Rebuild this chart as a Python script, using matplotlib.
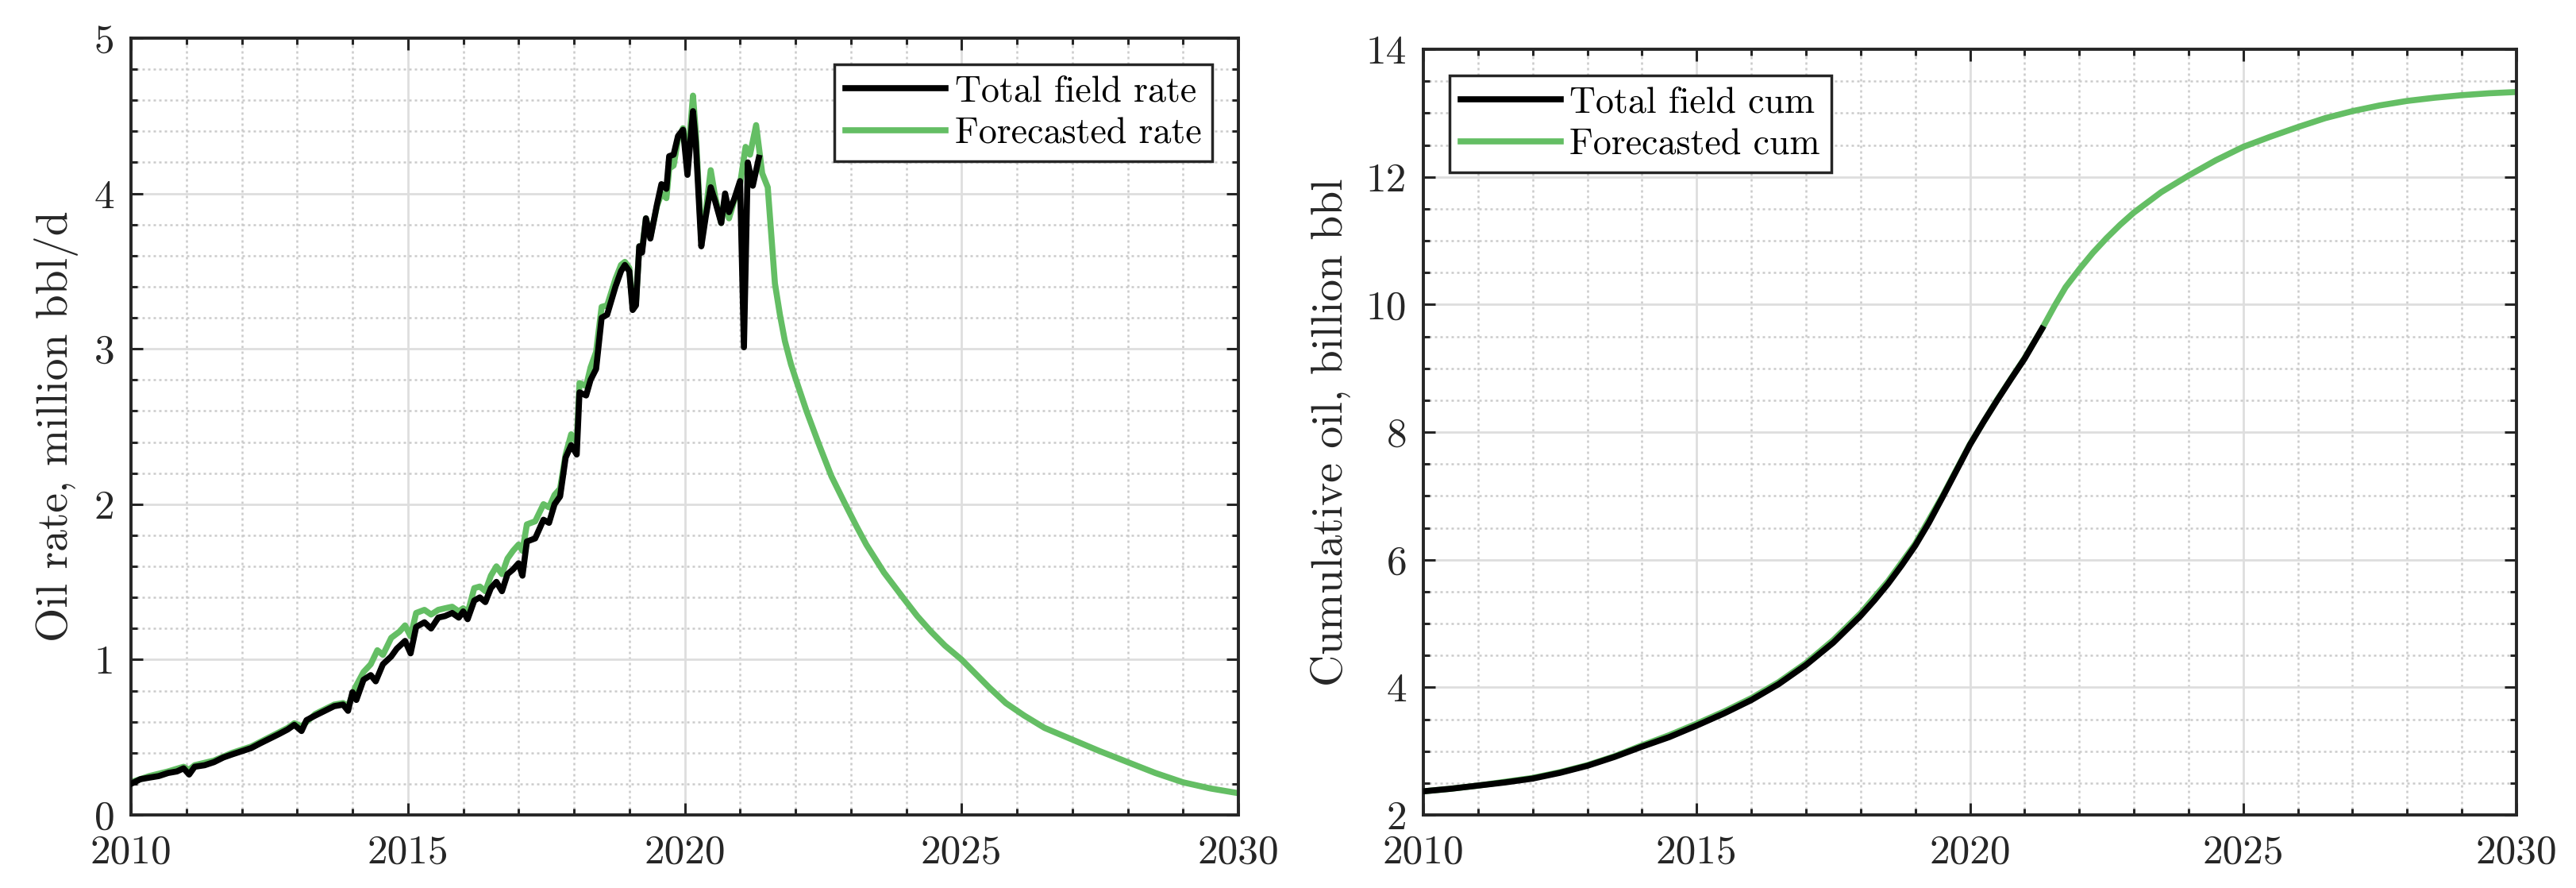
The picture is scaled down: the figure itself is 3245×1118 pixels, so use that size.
import matplotlib
matplotlib.use('Agg')
import matplotlib.pyplot as plt
from matplotlib.ticker import MultipleLocator
from matplotlib.lines import Line2D

plt.rcParams.update({
    'font.family': 'serif',
    'font.serif': ['cmr10'],
    'mathtext.fontset': 'cm',
    'axes.formatter.use_mathtext': True,
    'axes.unicode_minus': False,
})

# ---------------- data ----------------
rate_hist_year = [2010.00, 2010.17, 2010.33, 2010.50, 2010.67, 2010.83, 2010.95, 2011.05, 2011.15, 2011.33,
                  2011.50, 2011.67, 2011.83, 2012.00, 2012.17, 2012.33, 2012.50, 2012.67, 2012.83, 2012.95,
                  2013.08, 2013.17, 2013.33, 2013.50, 2013.67, 2013.83, 2013.92, 2014.00, 2014.07, 2014.20,
                  2014.33, 2014.42, 2014.55, 2014.70, 2014.80, 2014.95, 2015.05, 2015.15, 2015.30, 2015.42,
                  2015.55, 2015.67, 2015.80, 2015.92, 2016.00, 2016.08, 2016.20, 2016.30, 2016.40, 2016.50,
                  2016.60, 2016.70, 2016.80, 2016.90, 2017.00, 2017.07, 2017.15, 2017.30, 2017.45, 2017.55,
                  2017.65, 2017.75, 2017.85, 2017.95, 2018.05, 2018.10, 2018.22, 2018.30, 2018.40, 2018.50,
                  2018.60, 2018.75, 2018.85, 2018.92, 2019.00, 2019.06, 2019.12, 2019.18, 2019.23, 2019.30,
                  2019.38, 2019.50, 2019.58, 2019.67, 2019.72, 2019.80, 2019.88, 2019.97, 2020.05, 2020.15,
                  2020.20, 2020.30, 2020.38, 2020.47, 2020.55, 2020.66, 2020.73, 2020.80, 2020.90, 2021.00,
                  2021.07, 2021.14, 2021.23, 2021.34]
rate_hist = [0.20, 0.23, 0.24, 0.25, 0.27, 0.28, 0.30, 0.26, 0.31, 0.32,
             0.34, 0.37, 0.39, 0.41, 0.43, 0.46, 0.49, 0.52, 0.55, 0.58,
             0.54, 0.61, 0.64, 0.67, 0.70, 0.71, 0.67, 0.79, 0.74, 0.87,
             0.90, 0.86, 0.97, 1.02, 1.07, 1.12, 1.04, 1.21, 1.24, 1.20,
             1.27, 1.28, 1.30, 1.27, 1.31, 1.26, 1.38, 1.40, 1.37, 1.46,
             1.50, 1.44, 1.55, 1.58, 1.62, 1.54, 1.76, 1.78, 1.90, 1.88,
             2.00, 2.05, 2.30, 2.38, 2.32, 2.72, 2.70, 2.80, 2.87, 3.20,
             3.22, 3.40, 3.50, 3.54, 3.50, 3.25, 3.28, 3.66, 3.62, 3.84,
             3.71, 3.93, 4.06, 4.03, 4.24, 4.25, 4.37, 4.41, 4.12, 4.53,
             4.33, 3.66, 3.85, 4.04, 3.95, 3.81, 4.00, 3.88, 3.97, 4.08,
             3.01, 4.20, 4.05, 4.23]

rate_fc_year = [2010.00, 2010.33, 2010.67, 2010.95, 2011.05, 2011.15, 2011.50, 2011.83, 2012.17, 2012.50,
                2012.83, 2012.95, 2013.08, 2013.33, 2013.67, 2013.83, 2013.92, 2014.05, 2014.20, 2014.33,
                2014.45, 2014.55, 2014.70, 2014.85, 2014.95, 2015.05, 2015.15, 2015.30, 2015.42, 2015.55,
                2015.67, 2015.80, 2015.92, 2016.00, 2016.08, 2016.20, 2016.30, 2016.40, 2016.50, 2016.60,
                2016.70, 2016.80, 2016.90, 2017.00, 2017.07, 2017.15, 2017.30, 2017.45, 2017.55, 2017.65,
                2017.75, 2017.85, 2017.95, 2018.05, 2018.10, 2018.22, 2018.30, 2018.40, 2018.50, 2018.60,
                2018.75, 2018.85, 2018.92, 2019.00, 2019.06, 2019.12, 2019.18, 2019.23, 2019.30, 2019.38,
                2019.50, 2019.58, 2019.67, 2019.72, 2019.80, 2019.88, 2019.97, 2020.05, 2020.15, 2020.20,
                2020.30, 2020.38, 2020.47, 2020.55, 2020.66, 2020.73, 2020.80, 2020.90, 2021.00, 2021.10,
                2021.18, 2021.29, 2021.40, 2021.50, 2021.63, 2021.72, 2021.81, 2021.92, 2022.03, 2022.20,
                2022.43, 2022.65, 2022.90, 2023.10, 2023.28, 2023.60, 2023.94, 2024.20, 2024.45, 2024.70,
                2025.00, 2025.25, 2025.50, 2025.80, 2026.13, 2026.50, 2027.00, 2027.50, 2028.00, 2028.50,
                2029.00, 2029.50, 2030.00]
rate_fc = [0.21, 0.25, 0.28, 0.31, 0.29, 0.32, 0.35, 0.40, 0.44, 0.50,
           0.56, 0.59, 0.57, 0.65, 0.71, 0.72, 0.70, 0.82, 0.92, 0.97,
           1.06, 1.03, 1.14, 1.18, 1.22, 1.15, 1.30, 1.32, 1.29, 1.32,
           1.33, 1.34, 1.31, 1.33, 1.30, 1.46, 1.47, 1.44, 1.54, 1.60,
           1.55, 1.65, 1.70, 1.74, 1.70, 1.87, 1.89, 2.00, 1.98, 2.06,
           2.10, 2.32, 2.45, 2.40, 2.78, 2.76, 2.88, 2.98, 3.27, 3.28,
           3.45, 3.54, 3.56, 3.52, 3.28, 3.30, 3.66, 3.64, 3.84, 3.72,
           3.92, 4.00, 3.97, 4.16, 4.18, 4.35, 4.42, 4.20, 4.63, 4.40,
           3.70, 3.88, 4.15, 3.98, 3.81, 3.98, 3.84, 3.96, 4.06, 4.30,
           4.25, 4.44, 4.13, 4.04, 3.42, 3.22, 3.05, 2.90, 2.78, 2.60,
           2.38, 2.18, 2.00, 1.86, 1.74, 1.56, 1.40, 1.28, 1.18, 1.09,
           1.00, 0.91, 0.82, 0.72, 0.64, 0.56, 0.485, 0.41, 0.34, 0.27,
           0.21, 0.17, 0.14]

cum_hist_year = [2010.0, 2010.5, 2011.0, 2011.5, 2012.0, 2012.5, 2013.0, 2013.5, 2014.0, 2014.5,
                 2015.0, 2015.5, 2016.0, 2016.5, 2017.0, 2017.5, 2018.0, 2018.25, 2018.5, 2018.75,
                 2019.0, 2019.25, 2019.5, 2019.75, 2020.0, 2020.25, 2020.5, 2020.75, 2021.0, 2021.32]
cum_hist = [2.37, 2.41, 2.46, 2.51, 2.57, 2.66, 2.77, 2.91, 3.07, 3.22,
            3.40, 3.59, 3.80, 4.05, 4.35, 4.70, 5.12, 5.36, 5.62, 5.91,
            6.22, 6.58, 6.98, 7.39, 7.80, 8.16, 8.50, 8.83, 9.15, 9.62]

cum_fc_year = [2010.0, 2010.5, 2011.0, 2011.5, 2012.0, 2012.5, 2013.0, 2013.5, 2014.0, 2014.5,
               2015.0, 2015.5, 2016.0, 2016.5, 2017.0, 2017.5, 2018.0, 2018.5, 2019.0, 2019.5,
               2020.0, 2020.5, 2021.0, 2021.32, 2021.55, 2021.75, 2022.0, 2022.25, 2022.5, 2022.75,
               2023.0, 2023.5, 2024.0, 2024.5, 2025.0, 2025.5, 2026.0, 2026.5, 2027.0, 2027.5,
               2028.0, 2028.5, 2029.0, 2029.5, 2030.0]
cum_fc = [2.37, 2.41, 2.46, 2.52, 2.58, 2.67, 2.78, 2.92, 3.09, 3.25,
          3.43, 3.62, 3.83, 4.08, 4.38, 4.74, 5.16, 5.66, 6.25, 7.00,
          7.81, 8.51, 9.16, 9.62, 9.98, 10.27, 10.55, 10.81, 11.04, 11.25,
          11.44, 11.76, 12.02, 12.26, 12.47, 12.63, 12.78, 12.92, 13.03, 13.12,
          13.19, 13.24, 13.28, 13.31, 13.33]

# ---------------- style ----------------
DARK = '#262626'
GREEN = '#64be64'
LW = 5.5
TICK_FS = 37
LABEL_FS = 40
LEG_FS = 33

fig = plt.figure(figsize=(32.45, 11.18), dpi=100)
ax1 = fig.add_axes([165 / 3245, 92 / 1118, 1395 / 3245, 978 / 1118])
ax2 = fig.add_axes([1793 / 3245, 92 / 1118, 1377 / 3245, 964 / 1118])


def style(ax, ymin, ymax, ymaj, ymin_step):
    ax.set_xlim(2010, 2030)
    ax.set_ylim(ymin, ymax)
    ax.xaxis.set_major_locator(MultipleLocator(5))
    ax.xaxis.set_minor_locator(MultipleLocator(1))
    ax.yaxis.set_major_locator(MultipleLocator(ymaj))
    ax.yaxis.set_minor_locator(MultipleLocator(ymin_step))
    ax.xaxis.set_major_formatter(plt.FuncFormatter(lambda v, p: f'{int(round(v))}'))
    ax.yaxis.set_major_formatter(plt.FuncFormatter(lambda v, p: f'{int(round(v))}'))
    ax.grid(True, which='major', color='#dedede', lw=2.0, ls='-')
    ax.grid(True, which='minor', color='#cbcbcb', lw=1.8, ls=(0, (1.2, 1.6)))
    ax.set_axisbelow(True)
    for s in ax.spines.values():
        s.set_color(DARK)
        s.set_linewidth(2.8)
    ax.tick_params(which='both', direction='in', top=True, right=True, colors=DARK,
                   labelsize=TICK_FS, width=2.2)
    ax.tick_params(which='major', length=11)
    ax.tick_params(which='minor', length=6)
    ax.tick_params(axis='x', which='major', pad=18)
    ax.tick_params(axis='y', which='major', pad=15)


style(ax1, 0, 5, 1, 0.2)
style(ax2, 2, 14, 2, 0.5)

ax1.plot(rate_fc_year, rate_fc, color=GREEN, lw=LW, solid_joinstyle='round', zorder=2)
ax1.plot(rate_hist_year, rate_hist, color='black', lw=LW, solid_joinstyle='round', zorder=3)
ax2.plot(cum_fc_year, cum_fc, color=GREEN, lw=LW, solid_joinstyle='round', zorder=2)
ax2.plot(cum_hist_year, cum_hist, color='black', lw=LW, solid_joinstyle='round', zorder=3)

ax1.set_ylabel('Oil rate, million bbl/d', fontsize=LABEL_FS, color=DARK, labelpad=14)
ax2.set_ylabel('Cumulative oil, billion bbl', fontsize=LABEL_FS, color=DARK, labelpad=14)


def legend(ax, labels, loc):
    h = [Line2D([], [], color='black', lw=LW), Line2D([], [], color=GREEN, lw=LW)]
    leg = ax.legend(h, labels, loc=loc, fontsize=LEG_FS, frameon=True, fancybox=False,
                    framealpha=1, edgecolor=DARK, borderaxespad=0.72, borderpad=0.3,
                    handlelength=2.75, handletextpad=0.25, labelspacing=0.25)
    leg.get_frame().set_linewidth(2.5)
    for t in leg.get_texts():
        t.set_color('black')
    return leg


legend(ax1, ['Total field rate', 'Forecasted rate'], 'upper right')
legend(ax2, ['Total field cum', 'Forecasted cum'], 'upper left')

fig.savefig('out.png', dpi=100, facecolor='white')
